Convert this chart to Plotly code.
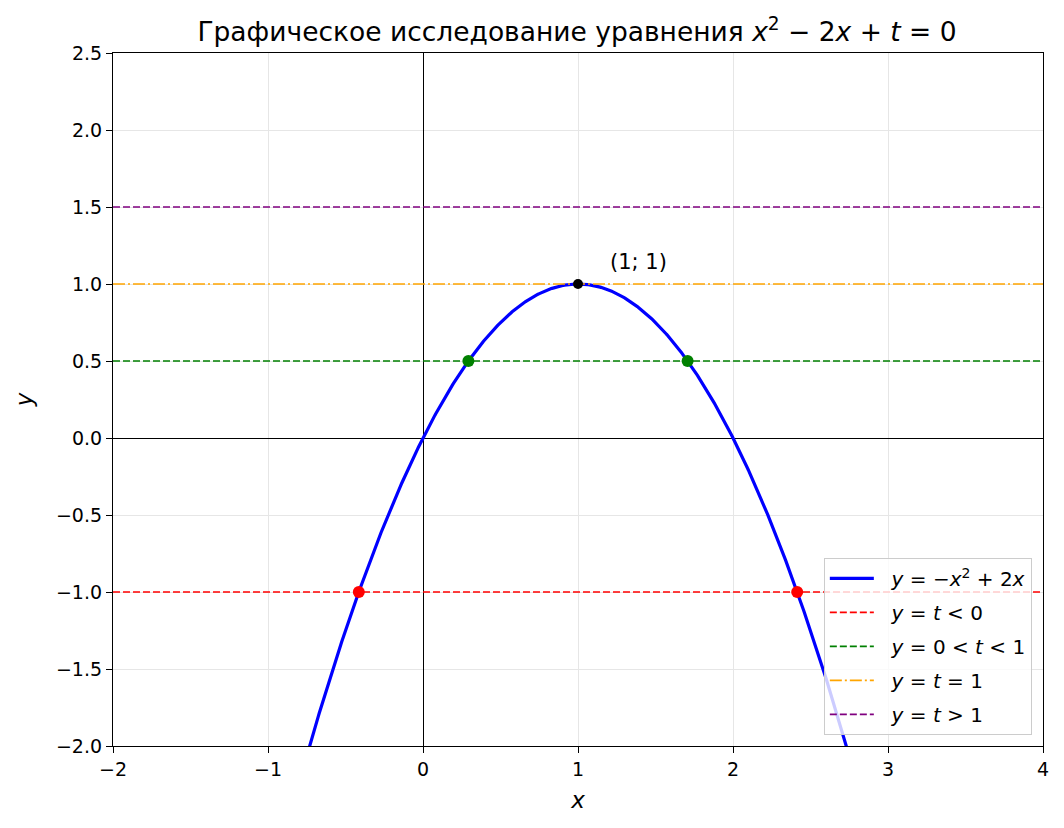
import numpy as np
import plotly.graph_objects as go

# Data
curve_a, curve_b, curve_c = -1.0, 2.0, 0.0          # y = -x^2 + 2x
curve_x_range = [-1.0, 3.0]
t_levels = [-1.0, 0.5, 1.0, 1.5]
t_names = ["<i>y</i> = <i>t</i> < 0", "<i>y</i> = 0 < <i>t</i> < 1",
           "<i>y</i> = <i>t</i> = 1", "<i>y</i> = <i>t</i> > 1"]
t_colors = ["red", "green", "orange", "purple"]
t_dashes = ["7px,3px", "7px,3px", "12px,3px,2px,3px", "7px,3px"]
red_pts_x = [1 - np.sqrt(2), 1 + np.sqrt(2)]
red_pts_y = [-1.0, -1.0]
green_pts_x = [1 - np.sqrt(0.5), 1 + np.sqrt(0.5)]
green_pts_y = [0.5, 0.5]
vertex_x, vertex_y = [1.0], [1.0]
x_ticks = [-2, -1, 0, 1, 2, 3, 4]
y_ticks = [-2.0, -1.5, -1.0, -0.5, 0.0, 0.5, 1.0, 1.5, 2.0, 2.5]

xs = np.linspace(curve_x_range[0], curve_x_range[1], 800)
ys = curve_a * xs**2 + curve_b * xs + curve_c

PAD = "&nbsp;&nbsp;"

fig = go.Figure()
fig.add_trace(go.Scatter(x=xs, y=ys, mode="lines", line=dict(color="blue", width=3.2),
                         name=PAD + "<i>y</i> = −<i>x</i><sup>2</sup> + 2<i>x</i>", legendgroup="g0"))
for i, (lvl, nm, col, dsh) in enumerate(zip(t_levels, t_names, t_colors, t_dashes)):
    fig.add_trace(go.Scatter(x=[-2, 4], y=[lvl, lvl], mode="lines",
                             line=dict(color=col, width=1.6, dash=dsh), name=PAD + nm,
                             legendgroup=f"g{i+1}"))
fig.add_trace(go.Scatter(x=red_pts_x, y=red_pts_y, mode="markers",
                         marker=dict(color="red", size=12), showlegend=False))
fig.add_trace(go.Scatter(x=green_pts_x, y=green_pts_y, mode="markers",
                         marker=dict(color="green", size=12), showlegend=False))
fig.add_trace(go.Scatter(x=vertex_x, y=vertex_y, mode="markers",
                         marker=dict(color="black", size=10), showlegend=False))

fig.add_annotation(x=1.2, y=1.1, text="(1; 1)", showarrow=False, xanchor="left",
                   yanchor="bottom", yshift=-7, xshift=-1, font=dict(size=21, color="black"))

axis_common = dict(showline=True, linecolor="black", linewidth=1.2, mirror=True,
                   ticks="outside", ticklen=6, tickcolor="black", tickwidth=1.2,
                   showgrid=True, gridcolor="#e6e6e6", gridwidth=1.3,
                   zeroline=True, zerolinecolor="black", zerolinewidth=1.2,
                   tickfont=dict(size=19, color="black"))
fig.update_xaxes(range=[-2, 4], tickvals=x_ticks, tickformat="d",
                 title=dict(text="<i>x</i>", font=dict(size=23, color="black"), standoff=12),
                 **axis_common)
fig.update_yaxes(range=[-2, 2.5], tickvals=y_ticks, tickformat=".1f",
                 title=dict(text="<i>y</i>", font=dict(size=23, color="black"), standoff=16),
                 **axis_common)

fig.update_layout(
    width=1064, height=828,
    margin=dict(l=113, r=21, t=53, b=82),
    plot_bgcolor="white", paper_bgcolor="white",
    font=dict(family="DejaVu Sans", color="black"),
    title=dict(text="Графическое исследование уравнения <i>x</i><sup>2</sup> − 2<i>x</i> + <i>t</i> = 0",
               x=0.5423, xanchor="center", y=0.9614, yanchor="middle",
               font=dict(size=26.5, color="black")),
    legend=dict(x=0.988, y=0.016, xanchor="right", yanchor="bottom",
                bgcolor="rgba(255,255,255,0.8)", bordercolor="#cccccc", borderwidth=1,
                font=dict(size=20, color="black"), tracegroupgap=5, itemwidth=44),
)

fig.write_html("out.html", config={"displayModeBar": False},
               post_script="document.body.style.margin='0';document.body.style.overflow='hidden';")
